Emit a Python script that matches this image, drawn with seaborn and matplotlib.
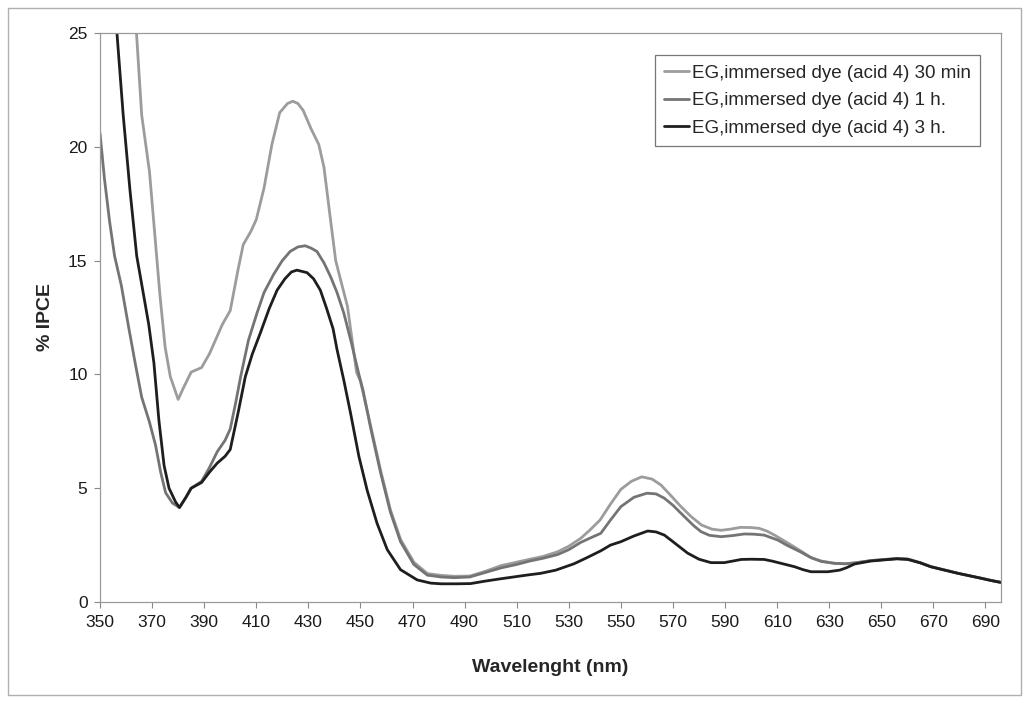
import matplotlib
matplotlib.use("Agg")
import matplotlib.pyplot as plt
import seaborn as sns
import pandas as pd
from matplotlib.patches import Rectangle

# === data ===
labels = ["EG,immersed dye (acid 4) 30 min",
          "EG,immersed dye (acid 4) 1 h.",
          "EG,immersed dye (acid 4) 3 h."]

wl_30min = [350, 356, 361, 364, 366, 369, 371, 373, 375, 377, 380, 382, 385, 389, 392, 397, 400,
            403, 405, 408, 410, 413, 416, 419, 422, 424, 426, 428, 431, 434, 436, 438.5, 440.5,
            442.5, 445, 448.5, 450, 454, 457.7, 461.5, 465.4, 470.5, 475.7, 481, 486, 492, 498,
            504, 510, 515, 520, 525.6, 530, 534.6, 538, 542, 546, 550, 554, 558, 562, 565.4, 569,
            573, 577, 581, 585, 588.5, 592, 596, 600, 603, 606, 609, 614, 619, 623, 627, 632, 636,
            640, 646, 652, 656, 660, 665, 669, 674, 679.5, 684, 688.5, 692, 696]
ipce_30min = [34, 30.5, 27.5, 25.0, 21.4, 18.9, 16.2, 13.5, 11.2, 9.9, 8.9, 9.4, 10.1, 10.3, 10.9,
              12.2, 12.8, 14.6, 15.7, 16.3, 16.8, 18.2, 20.1, 21.5, 21.9, 22.0, 21.9, 21.6, 20.8,
              20.1, 19.1, 16.8, 15.0, 14.1, 13.0, 10.1, 9.7, 7.7, 5.8, 4.05, 2.75, 1.75, 1.25,
              1.17, 1.13, 1.14, 1.35, 1.6, 1.75, 1.88, 2.0, 2.2, 2.45, 2.8, 3.15, 3.6, 4.3, 4.95,
              5.3, 5.5, 5.4, 5.14, 4.7, 4.2, 3.75, 3.38, 3.2, 3.15, 3.2, 3.28, 3.27, 3.24, 3.12,
              2.94, 2.6, 2.25, 1.95, 1.8, 1.7, 1.68, 1.72, 1.82, 1.88, 1.92, 1.9, 1.73, 1.56,
              1.42, 1.26, 1.15, 1.04, 0.95, 0.86]

wl_1h = [350, 351.7, 353.7, 355.6, 358.2, 360.8, 363.5, 366, 369, 371.3, 373.3, 375.2, 377.8,
         380.5, 383, 385, 389, 392, 395, 398, 400, 402, 404, 407, 410.3, 413, 416.7, 420, 423,
         426, 428.8, 431, 433.3, 436, 438.5, 441, 443.6, 446.5, 449.4, 451, 454, 457.7, 461.5,
         465.4, 470.5, 475.7, 481, 486, 492, 498, 504, 510, 515, 520, 525.6, 530, 534.6, 538,
         542.3, 546, 550, 555, 560, 563.5, 566.7, 570, 574.4, 578, 580.8, 584, 588.5, 593, 597.4,
         601, 605, 610.3, 614, 619, 623, 627, 632, 636, 640, 646, 652, 656, 660, 665, 669, 674,
         679.5, 684, 688.5, 692, 696]
ipce_1h = [20.6, 18.6, 16.7, 15.2, 13.9, 12.2, 10.5, 9.0, 7.9, 6.9, 5.7, 4.8, 4.35, 4.15, 4.6,
           5.0, 5.3, 5.9, 6.6, 7.1, 7.6, 8.7, 9.9, 11.5, 12.7, 13.6, 14.4, 15.0, 15.4, 15.6,
           15.65, 15.55, 15.4, 14.9, 14.3, 13.6, 12.7, 11.4, 10.0, 9.3, 7.6, 5.7, 3.95, 2.65,
           1.65, 1.18, 1.1, 1.07, 1.1, 1.3, 1.5, 1.65, 1.8, 1.92, 2.08, 2.3, 2.62, 2.8, 3.02,
           3.6, 4.19, 4.6, 4.78, 4.75, 4.56, 4.25, 3.75, 3.35, 3.09, 2.93, 2.87, 2.92, 2.99,
           2.98, 2.94, 2.72, 2.48, 2.2, 1.95, 1.78, 1.7, 1.68, 1.72, 1.82, 1.87, 1.9, 1.88,
           1.72, 1.55, 1.41, 1.26, 1.15, 1.04, 0.95, 0.86]

wl_3h = [350, 353, 356.5, 358.9, 361.5, 364.1, 366.1, 368.7, 370.7, 372.6, 374.6, 376.5, 379,
         380.5, 383, 385, 389, 392, 395, 398, 400, 403, 405.8, 408.5, 411.5, 415, 418, 421, 423.5,
         425.6, 429.5, 432, 434.6, 437, 439.5, 441, 443.6, 446.2, 449.4, 452.6, 456.4, 460.3,
         465.4, 471.8, 477, 481, 487, 492.3, 498, 503.8, 510, 515, 519.2, 525, 532, 537, 542.3,
         546, 550, 555, 560.3, 563.5, 566.7, 570, 575.6, 580, 584.6, 589.7, 593, 596.2, 600, 605,
         608, 611.5, 616.7, 620, 623, 629.5, 634, 636.5, 639.7, 646, 652, 656, 660.3, 665, 669,
         674, 679.5, 684, 688.5, 692, 696]
ipce_3h = [32, 28.5, 25.0, 21.4, 18.1, 15.2, 13.9, 12.2, 10.5, 8.0, 6.0, 5.0, 4.4, 4.15, 4.6,
           5.0, 5.25, 5.7, 6.1, 6.4, 6.7, 8.3, 9.9, 10.9, 11.8, 12.9, 13.7, 14.2, 14.5, 14.58,
           14.47, 14.2, 13.7, 12.9, 12.0, 11.1, 9.75, 8.3, 6.4, 4.9, 3.45, 2.3, 1.42, 0.97,
           0.83, 0.8, 0.8, 0.81, 0.92, 1.02, 1.12, 1.2, 1.26, 1.4, 1.68, 1.95, 2.25, 2.5, 2.65,
           2.9, 3.12, 3.08, 2.94, 2.65, 2.15, 1.88, 1.73, 1.73, 1.8, 1.87, 1.88, 1.87, 1.8, 1.7,
           1.55, 1.42, 1.33, 1.33, 1.4, 1.5, 1.67, 1.8, 1.86, 1.9, 1.87, 1.72, 1.55, 1.41, 1.26,
           1.15, 1.04, 0.95, 0.86]

x_ticks = list(range(350, 700, 20))
y_ticks = [0, 5, 10, 15, 20, 25]

df = pd.concat([
    pd.DataFrame({"wl": wl_30min, "ipce": ipce_30min, "series": labels[0]}),
    pd.DataFrame({"wl": wl_1h, "ipce": ipce_1h, "series": labels[1]}),
    pd.DataFrame({"wl": wl_3h, "ipce": ipce_3h, "series": labels[2]}),
])

sns.set_style("white")
plt.rcParams["font.family"] = ["Liberation Sans", "DejaVu Sans"]

fig = plt.figure(figsize=(10.31, 7.01), dpi=100)
ax = fig.add_axes([0.097, 0.1412, 0.874, 0.8118])

palette = {labels[0]: "#9c9c9c", labels[1]: "#747474", labels[2]: "#1e1e1e"}
sns.lineplot(data=df, x="wl", y="ipce", hue="series", palette=palette, sort=False,
             estimator=None, linewidth=2.0, ax=ax)

ax.set_xlim(350, 696)
ax.set_ylim(0, 25)
ax.set_xticks(x_ticks)
ax.set_yticks(y_ticks)
ax.tick_params(axis="both", labelsize=12.5, labelcolor="#1a1a1a", color="#888888",
               length=4, width=0.8, direction="out", bottom=True, left=True, pad=5)
for sp in ax.spines.values():
    sp.set_color("#9a9a9a")
    sp.set_linewidth(0.9)

ax.set_xlabel("Wavelenght (nm)", fontsize=14, fontweight="bold", labelpad=21)
ax.set_ylabel("% IPCE", fontsize=14, fontweight="bold", labelpad=10)

leg = ax.legend(loc="upper left", bbox_to_anchor=(0.616, 0.961), borderaxespad=0,
                fontsize=13.5, frameon=True, fancybox=False, handlelength=1.3,
                handletextpad=0.15, borderpad=0.5, labelspacing=0.55)
leg.get_frame().set_edgecolor("#555555")
leg.get_frame().set_linewidth(0.9)
for line in leg.get_lines():
    line.set_linewidth(2.0)

# outer chart border
fig.patches.append(Rectangle((0.008, 0.008), 0.982, 0.98, transform=fig.transFigure,
                             fill=False, edgecolor="#b0b0b0", linewidth=1.0))

fig.savefig("out.png", dpi=100)
plt.close(fig)
